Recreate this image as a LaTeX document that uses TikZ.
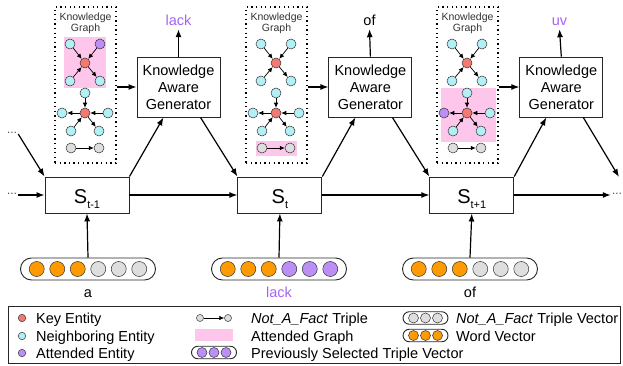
\documentclass[tikz,border=0pt]{standalone}
\usepackage{fontspec}
\setmainfont{Liberation Sans}
\usepackage{xcolor}
\usepackage{tikz}
\usetikzlibrary{arrows.meta, positioning, calc}

\definecolor{keyred}{HTML}{F27A72}
\definecolor{nbrcyan}{HTML}{B3F0F6}
\definecolor{attnpurple}{HTML}{BC8FF6}
\definecolor{wordorange}{HTML}{FF9A00}
\definecolor{factgray}{HTML}{DEDEDE}
\definecolor{attnpink}{HTML}{FFC6EB}
\definecolor{outpurple}{HTML}{A463F4}

\tikzstyle{arrow} = [line width=1.2pt,-{Latex[length=8pt,width=6pt]}]
\tikzstyle{smallarrow} = [line width=0.7pt,-{Latex[length=5pt,width=4.5pt]}]

\newcommand{\statename}[1]{{\fontsize{20}{20}\selectfont S}\raisebox{-5pt}{\fontsize{11}{11}\selectfont #1}}

\begin{document}
\begin{tikzpicture}[x=1pt, y=-1pt,
    state/.style={rectangle, draw=black!85, line width=0.9pt, minimum width=84pt, minimum height=36pt, text height=18pt, text depth=0pt, inner sep=0pt},
    gen/.style={rectangle, draw=black!85, line width=0.9pt, minimum width=83pt, minimum height=60pt, align=center, font=\fontsize{14.5}{17}\selectfont, inner sep=0pt},
    panel/.style={draw=black, line width=1.3pt, dash pattern=on 1.3pt off 3.3pt, minimum width=61pt, minimum height=156pt, inner sep=0pt},
    ent/.style={circle, draw=black!80, line width=0.5pt, minimum size=10pt, inner sep=0pt},
    slot/.style={circle, draw=black!80, line width=0.5pt, minimum size=15pt, inner sep=0pt},
    vec/.style={rectangle, rounded corners=11pt, draw=black!85, line width=0.9pt, minimum width=135pt, minimum height=22pt, inner sep=0pt},
    word/.style={font=\fontsize{14.5}{17}\selectfont, anchor=base, text height=10.5pt, text depth=0pt, inner sep=3pt},
    legtext/.style={font=\fontsize{14.5}{17}\selectfont, anchor=base west, inner sep=0pt},
    dots/.style={font=\fontsize{10}{10}\selectfont, inner sep=1pt}
    ]
    \useasboundingbox (0,0) rectangle (623,366);

    % Attended graphs
    \fill[attnpink] (64,37) rectangle (106,88);
    \fill[attnpink] (256,141) rectangle (297,156);
    \fill[attnpink] (441,88) rectangle (496,142);

    % Knowledge graphs
    \foreach \i/\dx/\tr/\lf in {1/0/attnpurple/nbrcyan, 2/191/nbrcyan/nbrcyan, 3/382/nbrcyan/attnpurple}{
      \begin{scope}[xshift=\dx]
        \node[panel] (kg\i) at (85.5,85) {};
        \node[font=\fontsize{10.5}{11.5}\selectfont, align=center, text=black!80, inner sep=0pt] (kgt\i) at (85.5,23.5) {Knowledge\\Graph};
        % upper graph
        \node[ent, fill=keyred] (ac\i) at (85,63) {};
        \node[ent, fill=nbrcyan] (atl\i) at (70,44) {};
        \node[ent, fill=\tr] (atr\i) at (100,44) {};
        \node[ent, fill=nbrcyan] (abl\i) at (70,81) {};
        \node[ent, fill=nbrcyan] (abr\i) at (100,81) {};
        \draw[smallarrow] (atl\i) -- (ac\i);
        \draw[smallarrow] (atr\i) -- (ac\i);
        \draw[smallarrow] (abl\i) -- (ac\i);
        \draw[smallarrow] (ac\i) -- (abr\i);
        % lower graph
        \node[ent, fill=keyred] (bc\i) at (85,113) {};
        \node[ent, fill=nbrcyan] (bt\i) at (85,93) {};
        \node[ent, fill=\lf] (bl\i) at (62,113) {};
        \node[ent, fill=nbrcyan] (br\i) at (108,113) {};
        \node[ent, fill=nbrcyan] (bbl\i) at (71,131) {};
        \node[ent, fill=nbrcyan] (bbr\i) at (99,131) {};
        \draw[smallarrow] (bt\i) -- (bc\i);
        \draw[smallarrow] (bc\i) -- (bl\i);
        \draw[smallarrow] (br\i) -- (bc\i);
        \draw[smallarrow] (bbl\i) -- (bc\i);
        \draw[smallarrow] (bc\i) -- (bbr\i);
        % not-a-fact triple
        \node[ent, fill=factgray] (ta\i) at (71,148) {};
        \node[ent, fill=factgray] (tb\i) at (99,148) {};
        \draw[smallarrow] (ta\i) -- (tb\i);
      \end{scope}
    }

    % States
    \node[state] (s1) at (87,195) {\statename{t-1}};
    \node[state, right=108pt of s1] (s2) {\statename{t}};
    \node[state, right=107pt of s2] (s3) {\statename{t+1}};

    % Generators
    \node[gen] (g1) at (178.5,87) {Knowledge\\Aware\\Generator};
    \node[gen, right=108pt of g1] (g2) {Knowledge\\Aware\\Generator};
    \node[gen, right=107pt of g2] (g3) {Knowledge\\Aware\\Generator};

    % Generated words
    \node[word, text=outpurple] (o1) at (178.5,26) {lack};
    \node[word] (o2) at (369.5,26) {of};
    \node[word, text=outpurple] (o3) at (559.5,26) {uv};

    % Input vectors
    \node[vec] (v1) at (88,269) {};
    \node[vec] (v2) at (279,269) {};
    \node[vec] (v3) at (470,269) {};
    \foreach \i/\c in {1/factgray, 2/attnpurple, 3/factgray}{
      \foreach \k in {0,1,2}
        \node[slot, fill=wordorange] (w\i\k) at ($(v\i)+({(\k-2.5)*20.5},0)$) {};
      \foreach \k in {3,4,5}
        \node[slot, fill=\c] (w\i\k) at ($(v\i)+({(\k-2.5)*20.5},0)$) {};
    }
    \node[word] (x1) at (88,297.5) {a};
    \node[word, text=outpurple] (x2) at (279,297.5) {lack};
    \node[word] (x3) at (470,297.5) {of};

    % Ends of the chain
    \node[dots] (d1) at (12,134) {···};
    \node[dots] (d2) at (12,195) {···};
    \node[dots] (d3) at (617,195) {···};
    \coordinate (nx) at (619,177);

    % Connections
    \draw[arrow] (d1.east) -- (s1.north west);
    \draw[arrow] (d2.east) -- (s1.west);
    \draw[arrow] (s1.east) -- (s2.west);
    \draw[arrow] (s2.east) -- (s3.west);
    \draw[arrow] (s3.east) -- (d3.west);
    \draw[arrow] (v1.north) -- (s1.south);
    \draw[arrow] (v2.north) -- (s2.south);
    \draw[arrow] (v3.north) -- (s3.south);
    \draw[arrow] (s1.north east) -- ($(g1.south)+(-15,0)$);
    \draw[arrow] (s2.north east) -- ($(g2.south)+(-15,0)$);
    \draw[arrow] (s3.north east) -- ($(g3.south)+(-15,0)$);
    \draw[arrow] ($(g1.south)+(22,0)$) -- (s2.north west);
    \draw[arrow] ($(g2.south)+(22,0)$) -- (s3.north west);
    \draw[arrow] ($(g3.south)+(22,0)$) -- (nx);
    \draw[arrow] (g1.west -| kg1.east) -- (g1.west);
    \draw[arrow] (g2.west -| kg2.east) -- (g2.west);
    \draw[arrow] (g3.west -| kg3.east) -- (g3.west);
    \draw[arrow] (g1.north) -- (o1.south);
    \draw[arrow] (g2.north) -- (o2.south);
    \draw[arrow] (g3.north) -- (o3.south);

    % Legend
    \node[draw=black!85, line width=0.8pt, minimum width=612pt, minimum height=57pt, inner sep=0pt, anchor=north west] (leg) at (8,306) {};
    \node[ent, fill=keyred, minimum size=7.5pt] (lk) at (22,318) {};
    \node[ent, fill=nbrcyan, minimum size=7.5pt] (ln) at (22,336) {};
    \node[ent, fill=attnpurple, minimum size=7.5pt] (la) at (22,353) {};
    \node[legtext] (lkt) at (36,323) {Key Entity};
    \node[legtext] (lnt) at (36,341) {Neighboring Entity};
    \node[legtext] (lat) at (36,358) {Attended Entity};

    \node[ent, fill=factgray, minimum size=7pt] (lta) at (200,318) {};
    \node[ent, fill=factgray, minimum size=7pt] (ltb) at (228,318) {};
    \draw[smallarrow] (lta) -- (ltb);
    \node[fill=attnpink, minimum width=38pt, minimum height=12pt, inner sep=0pt] (lpink) at (214,335) {};
    \node[vec, minimum width=45pt, minimum height=12.5pt, rounded corners=6.25pt] (lpv) at (214,352.5) {};
    \foreach \k in {-1,0,1}
      \node[ent, fill=attnpurple, minimum size=10pt] (lp\k) at ($(lpv)+(\k*12,0)$) {};
    \node[legtext] (ltt) at (251,323) {\textit{Not\_A\_Fact} Triple};
    \node[legtext] (lgt) at (251,341) {Attended Graph};
    \node[legtext] (lpt) at (251,358) {Previously Selected Triple Vector};

    \node[vec, minimum width=45pt, minimum height=12.5pt, rounded corners=6.25pt] (lfv) at (425.5,318) {};
    \node[vec, minimum width=45pt, minimum height=12.5pt, rounded corners=6.25pt] (lwv) at (425.5,335.5) {};
    \foreach \k in {-1,0,1}{
      \node[ent, fill=factgray, minimum size=10pt] (lf\k) at ($(lfv)+(\k*12,0)$) {};
      \node[ent, fill=wordorange, minimum size=10pt] (lw\k) at ($(lwv)+(\k*12,0)$) {};
    }
    \node[legtext] (lft) at (456,323) {\textit{Not\_A\_Fact} Triple Vector};
    \node[legtext] (lwt) at (456,341) {Word Vector};

\end{tikzpicture}
\end{document}
